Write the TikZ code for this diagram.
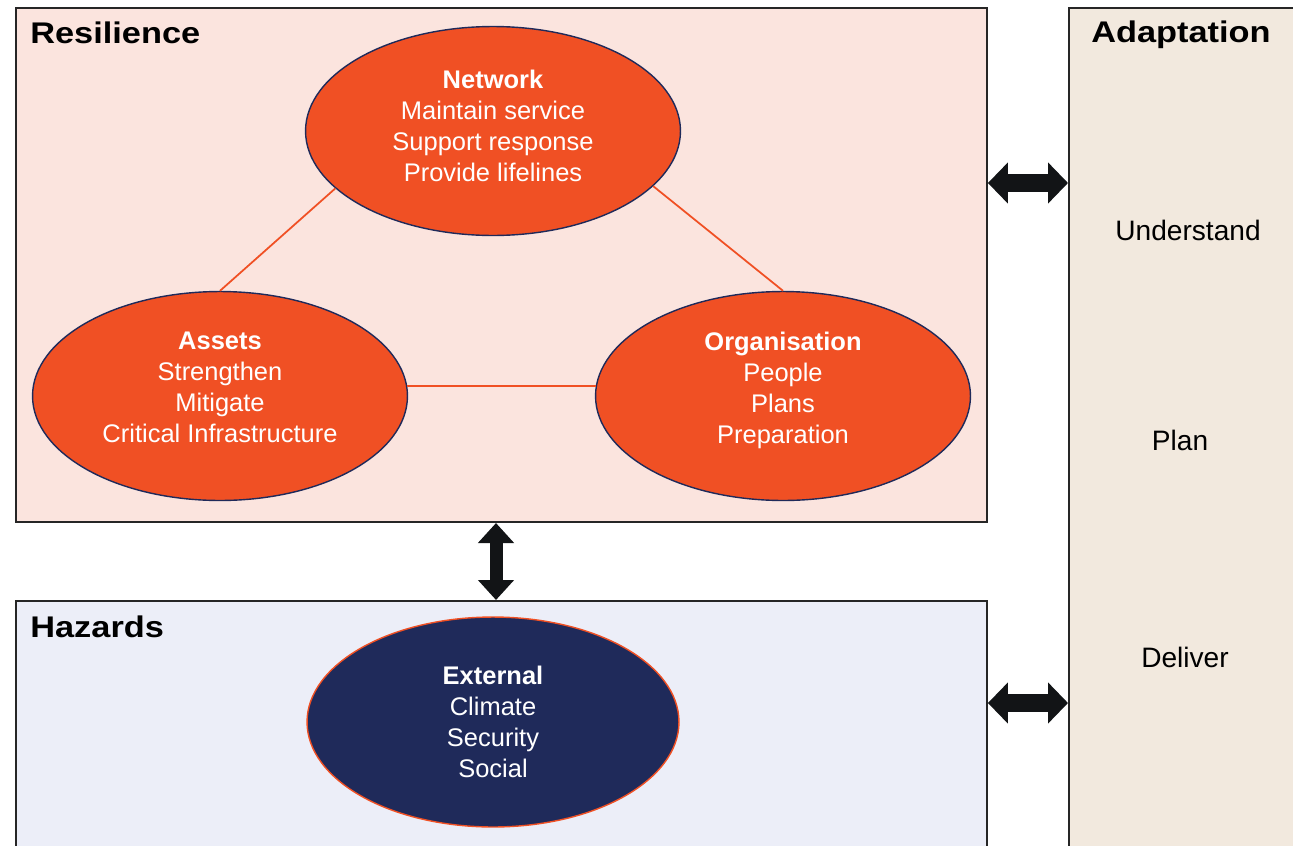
\documentclass[tikz,border=0pt]{standalone}
\usepackage{fontspec}
\setmainfont{Liberation Sans}
\newfontfamily\headfont{Liberation Sans}[FakeStretch=1.15]
\usepackage{tikz}
\usetikzlibrary{shapes.geometric,arrows.meta}

\definecolor{resfill}{HTML}{FBE4DE}
\definecolor{hazfill}{HTML}{ECEEF8}
\definecolor{adpfill}{HTML}{F2E9DE}
\definecolor{orangered}{HTML}{F05024}
\definecolor{navy}{HTML}{1F2A5A}
\definecolor{arrowblack}{HTML}{121416}

\begin{document}
\begin{tikzpicture}[x=0.02cm, y=-0.02cm,
    panel/.style={draw=black!85, line width=1.2pt, rectangle, inner sep=0pt, anchor=north west},
    title/.style={anchor=west, inner sep=0pt, font=\headfont\fontsize{17}{20}\selectfont\bfseries},
    blob/.style={ellipse, draw=navy, line width=0.8pt, fill=orangered, text=white, align=center,
        inner sep=0pt, minimum width=7.5cm, minimum height=4.18cm,
        font=\fontsize{14.5}{17.6}\selectfont},
    link/.style={draw=orangered, line width=1pt},
    stage/.style={inner sep=0pt, font=\fontsize{16}{19}\selectfont},
    dblarrow/.style={draw=arrowblack, line width=0.37cm,
        {Triangle[length=0.4cm, width=0.8cm]}-{Triangle[length=0.4cm, width=0.8cm]}},
    dblarrowv/.style={draw=arrowblack, line width=0.26cm,
        {Triangle[length=0.4cm, width=0.7cm]}-{Triangle[length=0.4cm, width=0.7cm]}}]
    \useasboundingbox (0,0) rectangle (1293,845);
    \clip (0,0) rectangle (1293,845);

    % panels
    \node[panel, fill=resfill, minimum width=19.42cm, minimum height=10.28cm] (res) at (15,7) {};
    \node[panel, fill=hazfill, minimum width=19.42cm, minimum height=6cm] (haz) at (15,600) {};
    \node[panel, fill=adpfill, minimum width=5cm, minimum height=17.5cm] (adp) at (1068,7) {};

    \node[title] (restitle) at (30,33) {Resilience};
    \node[title] (haztitle) at (30,627) {Hazards};
    \node[title, anchor=center] (adptitle) at (1181,35) {Adaptation};

    % resilience triangle
    \node[blob] (net) at (493,131) {\textbf{Network}\\Maintain service\\Support response\\Provide lifelines\\[-0.4cm]};
    \node[blob] (ast) at (220,396) {\textbf{Assets}\\Strengthen\\Mitigate\\Critical Infrastructure\\[-0.28cm]};
    \node[blob] (org) at (783,396) {\textbf{Organisation}\\People\\Plans\\Preparation\\[-0.28cm]};
    \draw[link] (net.200) -- (ast.north);
    \draw[link] (net.341) -- (org.north);
    \draw[link] (ast.3) -- (org.177);

    % hazards
    \node[blob, fill=navy, draw=orangered, minimum width=7.44cm, minimum height=4.2cm] (ext) at (493,722)
        {\textbf{External}\\Climate\\Security\\Social};

    % adaptation stages
    \node[stage] (und) at (1188,230) {Understand};
    \node[stage] (pln) at (1180,440) {Plan};
    \node[stage] (dlv) at (1185,657) {Deliver};

    % links between panels
    \coordinate (arU) at (0,183);
    \coordinate (arD) at (0,703);
    \coordinate (arV) at (496,0);
    \draw[dblarrow] (res.east |- arU) -- (adp.west |- arU);
    \draw[dblarrow] (haz.east |- arD) -- (adp.west |- arD);
    \draw[dblarrowv] (res.south -| arV) -- (haz.north -| arV);
\end{tikzpicture}
\end{document}
